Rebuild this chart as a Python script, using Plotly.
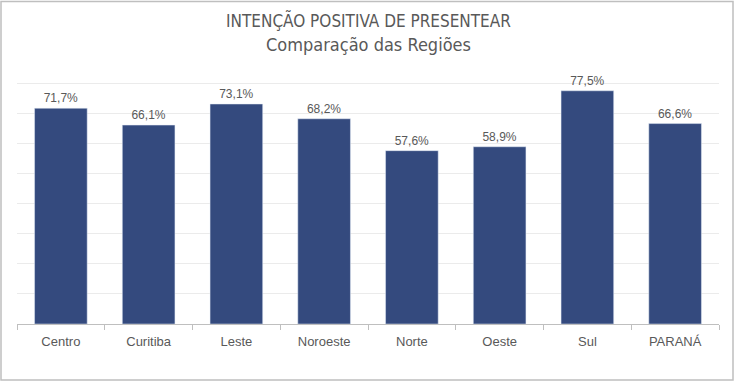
import plotly.graph_objects as go

categories = ["Centro", "Curitiba", "Leste", "Noroeste", "Norte", "Oeste", "Sul", "PARANÁ"]
values = [0.717, 0.661, 0.731, 0.682, 0.576, 0.589, 0.775, 0.666]
labels = [f"{v*100:.1f}%".replace(".", ",") for v in values]

W, H = 737, 382
L, R, T, B = 17, 18, 53, 58
pw, ph = W - L - R, H - T - B

def px_x(x):
    return (x - L) / pw

def px_y(y):
    return (H - B - y) / ph

grey = "#595959"
fig = go.Figure(go.Bar(
    x=categories, y=values, text=labels, textposition="outside",
    textfont=dict(size=12, color=grey, family="Liberation Sans, Arial"),
    marker=dict(color="#344A7E"), cliponaxis=False, width=0.6,
))

fig.update_layout(
    width=W, height=H, margin=dict(l=L, r=R, t=T, b=B),
    paper_bgcolor="white", plot_bgcolor="white", showlegend=False,
    font=dict(family="Liberation Sans, Arial", color=grey, size=12),
    xaxis=dict(showline=True, linecolor="#BFBFBF", linewidth=1, ticks="outside",
               tickson="boundaries", ticklen=5, tickcolor="#BFBFBF",
               ticklabelstandoff=5,
               tickfont=dict(size=13, color=grey)),
    yaxis=dict(range=[0, 0.9005], tickvals=[i/10 for i in range(10)], showticklabels=False,
               showgrid=True, gridcolor="#EBEBEB", gridwidth=1, zeroline=False),
    annotations=[
        dict(text="INTENÇÃO POSITIVA DE PRESENTEAR", x=0.5, y=px_y(20), xref="paper", yref="paper",
             showarrow=False, yanchor="middle", xanchor="center",
             font=dict(size=17, color=grey, family="Liberation Sans Narrow, DejaVu Sans Condensed, Arial Narrow")),
        dict(text="Comparação das Regiões", x=0.5, y=px_y(45), xref="paper", yref="paper",
             showarrow=False, yanchor="middle", xanchor="center",
             font=dict(size=18, color=grey, family="Liberation Sans Narrow, DejaVu Sans Condensed, Arial Narrow")),
    ],
    shapes=[dict(type="rect", xref="paper", yref="paper",
                 x0=px_x(1), x1=px_x(733), y0=px_y(380), y1=px_y(1.5),
                 line=dict(color="#BFBFBF", width=1.5), fillcolor="rgba(0,0,0,0)", layer="below")],
)

fig.write_html("out.html", config={"displayModeBar": False},
               post_script="document.body.style.margin='0';document.body.style.overflow='hidden';")
